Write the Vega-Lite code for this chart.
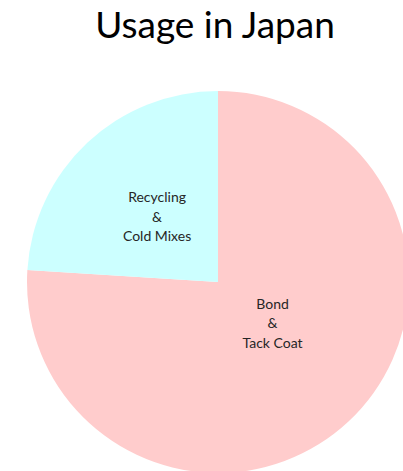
{
  "$schema": "https://vega.github.io/schema/vega-lite/v6.json",
  "width": 382,
  "height": 382,
  "autosize": "none",
  "padding": {"left": 27, "top": 91, "right": 0, "bottom": 0},
  "background": "white",
  "title": {
    "text": "Usage in Japan",
    "font": "Lato",
    "fontSize": 37,
    "fontWeight": "normal",
    "color": "black",
    "baseline": "alphabetic",
    "offset": 16,
    "dx": -3,
    "anchor": "middle"
  },
  "data": {
    "values": [
      {"use": "Bond & Tack Coat", "label": "Bond\n&\nTack Coat", "share": 76, "order": 1},
      {"use": "Recycling & Cold Mixes", "label": "Recycling\n&\nCold Mixes", "share": 24, "order": 2}
    ]
  },
  "encoding": {
    "theta": {"field": "share", "type": "quantitative", "stack": true},
    "order": {"field": "order", "type": "quantitative"}
  },
  "layer": [
    {
      "mark": {"type": "arc", "outerRadius": 191},
      "encoding": {
        "color": {
          "field": "use",
          "type": "nominal",
          "scale": {"domain": ["Bond & Tack Coat", "Recycling & Cold Mixes"], "range": ["#FFCCCC", "#CCFFFF"]},
          "legend": null
        }
      }
    },
    {
      "mark": {"type": "text", "radius": 89, "dy": -19, "lineBreak": "\n", "lineHeight": 19.5, "font": "Lato", "fontSize": 14, "color": "#262626", "align": "center", "baseline": "middle"},
      "encoding": {"text": {"condition": {"test": "datum.order == 2", "field": "label"}, "value": ""}}
    },
    {
      "mark": {"type": "text", "radius": 68, "dx": 8, "dy": -27, "lineBreak": "\n", "lineHeight": 19.5, "font": "Lato", "fontSize": 14, "color": "#262626", "align": "center", "baseline": "middle"},
      "encoding": {"text": {"condition": {"test": "datum.order == 1", "field": "label"}, "value": ""}}
    }
  ]
}
